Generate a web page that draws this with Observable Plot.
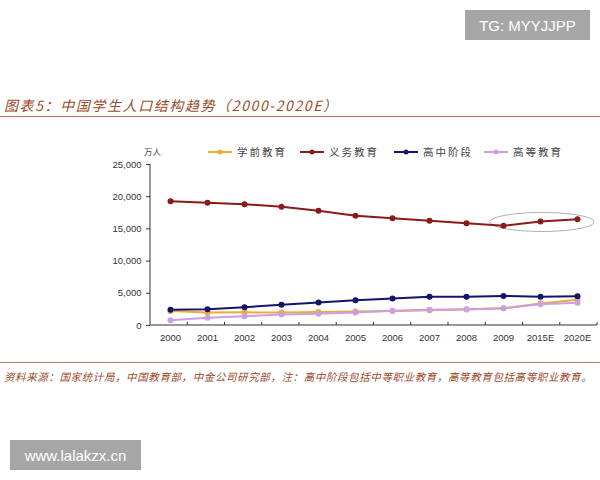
<!DOCTYPE html>
<html>
<head>
<meta charset="utf-8">
<script src="https://cdn.jsdelivr.net/npm/d3@7"></script>
<script src="https://cdn.jsdelivr.net/npm/@observablehq/plot@0.6"></script>
<style>
  body { margin:0; background:#fff; }
  #wrap { position:relative; width:600px; height:480px; overflow:hidden; font-family:"Noto Sans CJK SC","Noto Sans",sans-serif; }
  .wm { position:absolute; background:#a6a6a6; color:#fff; font-family:"Liberation Sans",Arial,sans-serif; font-size:15px; display:flex; align-items:center; justify-content:center; }
  #title { position:absolute; left:4px; top:95px; font-size:14px; font-style:italic; color:#9a4a2a; white-space:nowrap; letter-spacing:1.6px; }
  #tline { position:absolute; left:0; top:116px; width:600px; height:1px; background:#b07a60; }
  #sline { position:absolute; left:0; top:362px; width:600px; height:1px; background:#b07a60; }
  #source { position:absolute; left:4px; top:369px; font-size:10.5px; font-style:italic; color:#9a4a2a; white-space:nowrap; letter-spacing:0.6px; }
  #unit { position:absolute; left:144px; top:145px; font-size:8.5px; color:#444; }
  .leg { position:absolute; top:144px; display:flex; align-items:center; font-size:10.5px; color:#444; letter-spacing:2px; white-space:nowrap; }
  .leg svg { margin-right:5px; }
  #chart { position:absolute; left:0; top:140px; }
</style>
</head>
<body>
<div id="wrap">
  <div class="wm" style="left:465px;top:10px;width:125px;height:30px;">TG: MYYJJPP</div>
  <div class="wm" style="left:10px;top:440px;width:131px;height:30px;">www.lalakzx.cn</div>
  <div id="title">图表5：中国学生人口结构趋势（2000-2020E）</div>
  <div id="tline"></div>
  <div id="unit">万人</div>
  <div id="legend"></div>
  <div id="chart"></div>
  <div id="sline"></div>
  <div id="source">资料来源：国家统计局，中国教育部，中金公司研究部，注：高中阶段包括中等职业教育，高等教育包括高等职业教育。</div>
</div>
<script>
const years = ["2000","2001","2002","2003","2004","2005","2006","2007","2008","2009","2015E","2020E"];
const seriesNames = ["学前教育","义务教育","高中阶段","高等教育"];
const seriesColors = ["#f0aa30","#8b1a1a","#14146e","#c8a0e6"];
const preschool  = [2240,2020,2040,2000,2090,2180,2260,2350,2480,2660,3400,4000];
const compulsory = [19300,19050,18840,18430,17810,17030,16670,16250,15890,15480,16150,16510];
const highschool = [2430,2530,2840,3210,3570,3930,4190,4450,4450,4600,4450,4550];
const higher     = [830,1200,1450,1710,1810,2020,2280,2430,2530,2690,3310,3520];
const yTicks = [0,5000,10000,15000,20000,25000];
const legendX = [208,300,394,484];

const valuesBySeries = [preschool, compulsory, highschool, higher];
const data = [];
seriesNames.forEach((s, i) => years.forEach((y, j) => data.push({series:s, year:y, value:valuesBySeries[i][j]})));

// legend
const legend = document.getElementById("legend");
seriesNames.forEach((s, i) => {
  const d = document.createElement("div");
  d.className = "leg";
  d.style.left = legendX[i] + "px";
  d.innerHTML = `<svg width="24" height="8"><line x1="0" y1="4" x2="24" y2="4" stroke="${seriesColors[i]}" stroke-width="2"/><circle cx="12" cy="4" r="2.5" fill="${seriesColors[i]}"/></svg><span>${s}</span>`;
  legend.appendChild(d);
});

const W = 600, H = 230, mL = 150, mR = 3, mT = 24, mB = 45;

function axesMark(index, scales, values, dims) {
  const g = d3.create("svg:g");
  const x0 = dims.marginLeft, x1 = dims.width - dims.marginRight;
  const yb = dims.height - dims.marginBottom, yt = dims.marginTop;
  g.append("line").attr("x1", x0).attr("x2", x0).attr("y1", yt).attr("y2", yb).attr("stroke", "#333").attr("stroke-width", 1);
  g.append("line").attr("x1", x0).attr("x2", x1).attr("y1", yb).attr("y2", yb).attr("stroke", "#333").attr("stroke-width", 1);
  const step = (x1 - x0) / years.length;
  for (let i = 1; i <= years.length; i++) {
    const xx = x0 + i * step;
    g.append("line").attr("x1", xx).attr("x2", xx).attr("y1", yb).attr("y2", yb - 3).attr("stroke", "#333");
  }
  // highlight ellipse around forecast
  const cx = scales.x("2015E");
  const cy = scales.y(16000);
  g.append("ellipse").attr("cx", cx + 2).attr("cy", cy).attr("rx", step * 1.4).attr("ry", 9.5)
    .attr("fill", "none").attr("stroke", "#999").attr("stroke-width", 0.8);
  return g.node();
}

const plot = Plot.plot({
  width: W, height: H,
  marginLeft: mL, marginRight: mR, marginTop: mT, marginBottom: mB,
  style: { fontFamily: "'Liberation Sans', Arial, sans-serif", fontSize: "9.5px", color: "#333", background: "transparent" },
  x: { type: "point", domain: years, padding: 0.5, label: null },
  y: { domain: [0, 25000], label: null },
  color: { domain: seriesNames, range: seriesColors },
  marks: [
    Plot.axisY({ ticks: yTicks, tickFormat: d3.format(","), tickSize: 4, tickPadding: 5, label: null }),
    Plot.axisX({ tickSize: 0, tickPadding: 9, label: null }),
    axesMark,
    Plot.line(data, { x: "year", y: "value", z: "series", stroke: "series", strokeWidth: 2 }),
    Plot.dot(data, { x: "year", y: "value", fill: "series", r: 3 })
  ]
});
document.getElementById("chart").appendChild(plot);
</script>
</body>
</html>
